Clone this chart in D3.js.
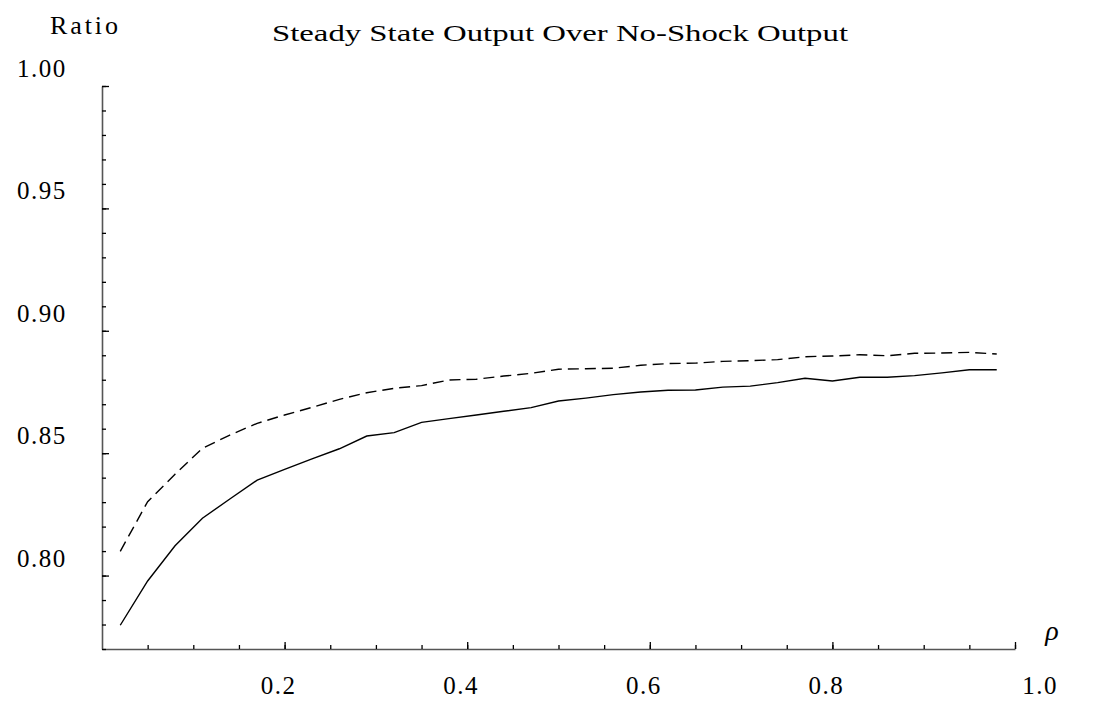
<!DOCTYPE html>
<html>
<head>
<meta charset="utf-8">
<script src="https://cdn.jsdelivr.net/npm/d3@7"></script>
<style>
    body { margin: 0; background: #fff; }
    text { font-family: 'Liberation Serif', serif; fill: #000; }
</style>
</head>
<body>
<svg id="chart" width="1094" height="706"></svg>
<script>
// rho grid used for both curves
const rho = [0.02, 0.05, 0.08, 0.11, 0.14, 0.17, 0.20, 0.23, 0.26, 0.29, 0.32,
             0.35, 0.38, 0.41, 0.44, 0.47, 0.50, 0.53, 0.56, 0.59, 0.62, 0.65,
             0.68, 0.71, 0.74, 0.77, 0.80, 0.83, 0.86, 0.89, 0.92, 0.95, 0.98];

// solid curve
const solidRatio = [0.7797, 0.7978, 0.8122, 0.8234, 0.8313, 0.8390, 0.8434, 0.8477, 0.8518, 0.8570, 0.8584,
                    0.8626, 0.8641, 0.8656, 0.8671, 0.8686, 0.8713, 0.8725, 0.8739, 0.8750, 0.8757, 0.8758,
                    0.8770, 0.8774, 0.8788, 0.8806, 0.8795, 0.8810, 0.8810, 0.8817, 0.8828, 0.8841, 0.8841];

// dashed curve
const dashedRatio = [0.8099, 0.8302, 0.8414, 0.8520, 0.8574, 0.8622, 0.8656, 0.8687, 0.8720, 0.8747, 0.8765,
                     0.8776, 0.8799, 0.8802, 0.8815, 0.8826, 0.8843, 0.8845, 0.8847, 0.8859, 0.8866, 0.8868,
                     0.8875, 0.8878, 0.8882, 0.8894, 0.8897, 0.8902, 0.8898, 0.8908, 0.8909, 0.8912, 0.8905];

// tick labels
const xTicks = [0.2, 0.4, 0.6, 0.8, 1.0];
const yTicks = [0.80, 0.85, 0.90, 0.95, 1.00];

const svg = d3.select('#chart');

// scales
const x = d3.scaleLinear().domain([0, 1]).range([102, 1015]);
const y = d3.scaleLinear().domain([0.77, 1.0]).range([649, 86]);

const axisColor = '#555';

// x axis: minor ticks every 0.05, major at labelled values
const xMinor = d3.range(1, 21).map(d => d / 20);
const gx = svg.append('g').attr('transform', `translate(0,${y(0.77)})`);
gx.call(d3.axisBottom(x).tickValues(xMinor).tickSizeInner(-4).tickSizeOuter(0).tickFormat(''));
gx.append('g').call(d3.axisBottom(x).tickValues(xTicks).tickSize(-7).tickFormat(''))
    .select('.domain').remove();
gx.selectAll('.domain').attr('stroke', axisColor).attr('stroke-width', 1.6);
gx.selectAll('.tick line').attr('stroke', '#000').attr('stroke-width', 1.3);

// y axis: minor ticks every 0.01
const yMinor = d3.range(77, 101).map(d => d / 100);
const gy = svg.append('g').attr('transform', `translate(${x(0)},0)`);
gy.call(d3.axisLeft(y).tickValues(yMinor).tickSizeInner(-4).tickSizeOuter(0).tickFormat(''));
gy.append('g').call(d3.axisLeft(y).tickValues(yTicks).tickSize(-7).tickFormat(''))
    .select('.domain').remove();
gy.selectAll('.domain').attr('stroke', axisColor).attr('stroke-width', 1.6);
gy.selectAll('.tick line').attr('stroke', '#000').attr('stroke-width', 1.3);

// tick labels
svg.selectAll('.xlab')
    .data(xTicks)
    .enter()
    .append('text')
    .attr('class', 'xlab')
    .attr('x', d => x(d) + (d === 1.0 ? 25 : -6))
    .attr('y', 694)
    .attr('text-anchor', 'middle')
    .style('font-size', '25px')
    .style('letter-spacing', '1.5px')
    .text(d => d.toFixed(1));

svg.selectAll('.ylab')
    .data(yTicks)
    .enter()
    .append('text')
    .attr('class', 'ylab')
    .attr('x', 17)
    .attr('y', d => y(d) - 9)
    .style('font-size', '25px')
    .style('letter-spacing', '1.5px')
    .text(d => d.toFixed(2));

// curves
const line = d3.line().x(d => x(d[0])).y(d => y(d[1]));

svg.append('path')
    .datum(d3.zip(rho, dashedRatio))
    .attr('fill', 'none')
    .attr('stroke', '#000')
    .attr('stroke-width', 1.4)
    .attr('stroke-dasharray', '11,6')
    .attr('d', line);

svg.append('path')
    .datum(d3.zip(rho, solidRatio))
    .attr('fill', 'none')
    .attr('stroke', '#000')
    .attr('stroke-width', 1.4)
    .attr('d', line);

// axis titles and plot title
svg.append('text')
    .attr('x', 50)
    .attr('y', 34)
    .style('font-size', '26px')
    .attr('textLength', 68)
    .text('Ratio');

svg.append('text')
    .attr('x', 1052)
    .attr('y', 640)
    .attr('text-anchor', 'middle')
    .style('font-size', '28px')
    .style('font-style', 'italic')
    .text('ρ');

svg.append('text')
    .attr('x', 272)
    .attr('y', 41)
    .style('font-size', '23px')
    .attr('textLength', 576)
    .attr('lengthAdjust', 'spacingAndGlyphs')
    .text('Steady State Output Over No-Shock Output');
</script>
</body>
</html>
